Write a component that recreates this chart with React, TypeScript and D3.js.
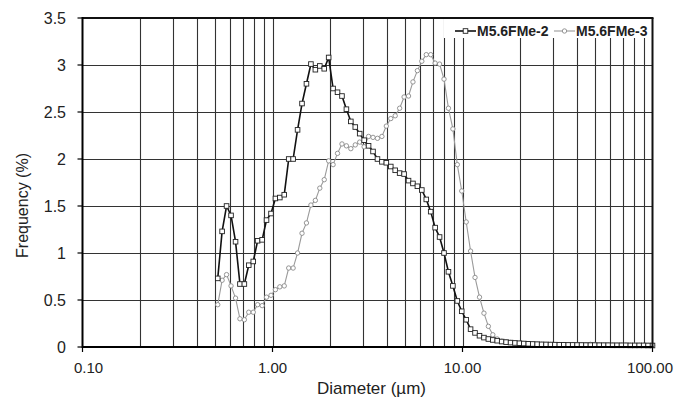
import React from "react";
import * as d3 from "d3";

const diameters = [
  0.515, 0.543, 0.573, 0.605, 0.639, 0.674, 0.711, 0.75, 0.792, 0.835,
  0.882, 0.93, 0.982, 1.036, 1.093, 1.153, 1.217, 1.284, 1.355, 1.43,
  1.509, 1.593, 1.681, 1.774, 1.872, 1.975, 2.084, 2.199, 2.321, 2.449,
  2.584, 2.727, 2.877, 3.036, 3.204, 3.381, 3.568, 3.765, 3.973, 4.193,
  4.424, 4.669, 4.927, 5.199, 5.486, 5.789, 6.109, 6.447, 6.803, 7.178,
  7.575, 7.993, 8.433, 8.9, 9.391, 9.908, 10.46, 11.03, 11.64, 12.29,
  12.97, 13.68, 14.44, 15.23, 16.08, 16.96, 17.9, 18.89, 19.93, 21.03,
  22.2, 23.42, 24.72, 26.08, 27.52, 29.04, 30.65, 32.34, 34.13, 36.01,
  38.0, 40.1, 42.32, 44.66, 47.12, 49.72, 52.47, 55.37, 58.43, 61.66,
  65.06, 68.66, 72.44, 76.44, 80.67, 85.11, 89.82, 94.78, 100.0,
];

const seriesNames = ["M5.6FMe-2", "M5.6FMe-3"];

const freqMe2 = [
  0.73, 1.23, 1.5, 1.4, 1.12, 0.67, 0.67, 0.87, 0.91, 1.13,
  1.14, 1.35, 1.42, 1.58, 1.59, 1.62, 2.0, 2.0, 2.31, 2.59,
  2.8, 3.01, 2.95, 2.99, 2.96, 3.08, 2.75, 2.71, 2.67, 2.53,
  2.4, 2.34, 2.27, 2.2, 2.14, 2.08, 2.0, 1.97, 1.96, 1.92,
  1.88, 1.85, 1.84, 1.77, 1.74, 1.71, 1.67, 1.57, 1.44, 1.27,
  1.17, 1.0, 0.8, 0.65, 0.49, 0.38, 0.29, 0.19, 0.15, 0.12,
  0.1, 0.085, 0.075, 0.067,
  0.058, 0.052, 0.047, 0.043, 0.04, 0.037, 0.034, 0.032, 0.03, 0.028,
  0.027, 0.026, 0.025, 0.024, 0.023, 0.022, 0.022, 0.021, 0.021, 0.02,
  0.02, 0.02, 0.019, 0.019, 0.019, 0.018, 0.018, 0.018, 0.018, 0.017,
  0.017, 0.017, 0.017, 0.016, 0.016,
];

const freqMe3 = [
  0.45, 0.71, 0.77, 0.65, 0.52, 0.3, 0.29, 0.37, 0.37, 0.45,
  0.44, 0.53, 0.55, 0.61, 0.64, 0.65, 0.84, 0.84, 1.0, 1.21,
  1.32, 1.51, 1.56, 1.69, 1.78, 1.98, 1.94, 2.06, 2.16, 2.14,
  2.11, 2.15, 2.18, 2.13, 2.24, 2.23, 2.22, 2.24, 2.35, 2.43,
  2.46, 2.54, 2.66, 2.67, 2.82, 2.94, 3.04, 3.11, 3.11, 3.02,
  3.01, 2.85, 2.54, 2.32, 1.94, 1.66, 1.33, 1.02, 0.74, 0.53,
  0.36, 0.22, 0.13, 0.085,
  0.062, 0.055, 0.048, 0.043, 0.04, 0.037, 0.034, 0.032, 0.03, 0.029,
  0.028, 0.027, 0.026, 0.025, 0.024, 0.024, 0.023, 0.023, 0.022, 0.025,
  0.028, 0.026, 0.023, 0.022, 0.021, 0.021, 0.02, 0.02, 0.02, 0.019,
  0.019, 0.019, 0.018, 0.018, 0.018,
];

const yTicks = [0, 0.5, 1, 1.5, 2, 2.5, 3, 3.5];
const yTickLabels = ["0", "0.5", "1", "1.5", "2", "2.5", "3", "3.5"];
const xTicks = [0.1, 1, 10, 100];
const xTickLabels = ["0.10", "1.00", "10.00", "100.00"];
const xMinorMultipliers = [1, 2, 3, 4, 5, 6, 7, 8, 9];
const xDecades = [0.1, 1, 10];

const FONT = "Arial, 'Liberation Sans', Helvetica, sans-serif";

export default function App() {
  const W = 675;
  const H = 397;
  const left = 82.5;
  const right = 652.5;
  const top = 18;
  const bottom = 347;

  const x = d3.scaleLog().domain([0.1, 100]).range([left, right]);
  const y = d3.scaleLinear().domain([0, 3.5]).range([bottom, top]);

  const gridX: number[] = [];
  xDecades.forEach((dec) =>
    xMinorMultipliers.forEach((m) => {
      const v = dec * m;
      if (v > 0.1 + 1e-9) gridX.push(v);
    })
  );

  const line = d3
    .line<number>()
    .x((_, i) => x(diameters[i]))
    .y((d) => y(d));

  const px = (v: number) => Math.round(v) + 0.5;

  return (
    <svg
      width={W}
      height={H}
      style={{ position: "fixed", left: 0, top: 0, background: "#fff" }}
      fontFamily={FONT}
    >
      <rect x={0} y={0} width={W} height={H} fill="#fff" />
      {yTicks.slice(1).map((t) => (
        <line key={"hy" + t} x1={left} x2={right} y1={px(y(t))} y2={px(y(t))} stroke="#333" strokeWidth={1.1} />
      ))}
      {gridX.map((g) => (
        <line key={"gx" + g} x1={px(x(g))} x2={px(x(g))} y1={top} y2={bottom} stroke="#333" strokeWidth={1.1} />
      ))}

      <path d={line(freqMe3) || ""} fill="none" stroke="#9a9a9a" strokeWidth={1.1} />
      {freqMe3.map((v, i) => (
        <circle key={"c3" + i} cx={x(diameters[i])} cy={y(v)} r={2.2} fill="#fff" stroke="#8a8a8a" strokeWidth={0.9} />
      ))}

      <path d={line(freqMe2) || ""} fill="none" stroke="#111" strokeWidth={1.6} />
      {freqMe2.map((v, i) => (
        <rect key={"s2" + i} x={x(diameters[i]) - 2.3} y={y(v) - 2.3} width={4.6} height={4.6} fill="#fff" stroke="#222" strokeWidth={0.9} />
      ))}

      <rect x={444} y={top} width={right - 444} height={20} fill="#fff" />
      <g>
        <line x1={455} x2={476} y1={31} y2={31} stroke="#111" strokeWidth={1.6} />
        <rect x={463.2} y={28.7} width={4.6} height={4.6} fill="#fff" stroke="#222" strokeWidth={0.9} />
        <text x={477} y={36} fontSize={14} fontWeight="bold" fill="#222">{seriesNames[0]}</text>
        <line x1={554} x2={575} y1={31} y2={31} stroke="#9a9a9a" strokeWidth={1.1} />
        <circle cx={564.5} cy={31} r={2.2} fill="#fff" stroke="#8a8a8a" strokeWidth={0.9} />
        <text x={576} y={36} fontSize={14} fontWeight="bold" fill="#222">{seriesNames[1]}</text>
      </g>

      <line x1={left} x2={right + 1} y1={top} y2={top} stroke="#111" strokeWidth={1.8} />
      <line x1={right} x2={right} y1={top} y2={bottom} stroke="#111" strokeWidth={2} />

      <line x1={left} x2={right + 1} y1={bottom} y2={bottom} stroke="#000" strokeWidth={2} />
      <line x1={left} x2={left} y1={top - 1} y2={bottom + 1} stroke="#000" strokeWidth={2} />

      {yTicks.map((t, i) => (
        <g key={"yt" + t}>
          <line x1={left - 5} x2={left} y1={y(t)} y2={y(t)} stroke="#000" strokeWidth={1.2} />
          <text x={66} y={y(t) + 5.5} fontSize={16} textAnchor="end" fill="#222">{yTickLabels[i]}</text>
        </g>
      ))}
      {xTicks.map((t, i) => (
        <g key={"xt" + t}>
          <line x1={x(t)} x2={x(t)} y1={bottom} y2={bottom + 5} stroke="#000" strokeWidth={1.2} />
          <text
            x={i === xTicks.length - 1 ? 673 : x(t) + (i === 0 ? 6 : 0)}
            y={373}
            fontSize={15}
            textAnchor={i === xTicks.length - 1 ? "end" : "middle"}
            fill="#222"
          >
            {xTickLabels[i]}
          </text>
        </g>
      ))}

      <text x={(left + right) / 2 + 4} y={394} fontSize={17} textAnchor="middle" fill="#222">Diameter (µm)</text>
      <text transform={`translate(28, ${(top + bottom) / 2 + 23}) rotate(-90)`} fontSize={16} textAnchor="middle" fill="#222">Frequency (%)</text>
    </svg>
  );
}
